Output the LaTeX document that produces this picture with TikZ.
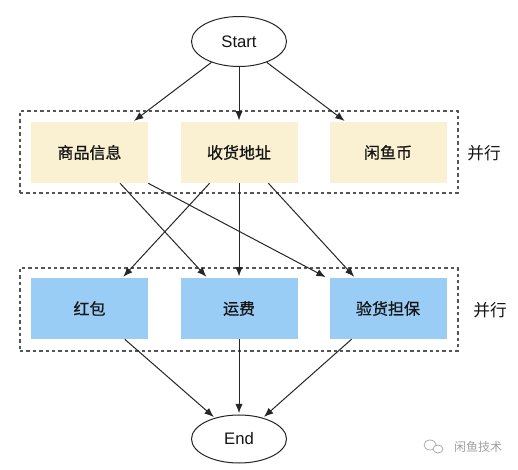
\documentclass[tikz,border=0pt]{standalone}
\usepackage{fontspec}
\setmainfont{Liberation Sans}
\newfontfamily\cjk{Noto Sans CJK SC}
\newfontfamily\cjkb{Noto Sans CJK SC}[FakeBold=0.8]
\usetikzlibrary{shapes.geometric,arrows.meta,calc}
\definecolor{boxyellow}{HTML}{FAF1D3}
\definecolor{boxblue}{HTML}{9ACDF5}
\definecolor{txt}{HTML}{151515}
\definecolor{dashgray}{HTML}{555555}
\definecolor{linegray}{HTML}{262626}
\definecolor{wmgray}{HTML}{A0A0A0}
\tikzset{
  terminal/.style={ellipse, draw=linegray, line width=0.75pt, fill=white, inner sep=0pt,
    minimum width=71.25pt, minimum height=37.5pt, font=\fontsize{12.5}{14}\selectfont, text=txt},
  yellowbox/.style={rectangle, fill=boxyellow, inner sep=0pt, minimum width=87.75pt,
    minimum height=45.75pt, font=\cjkb\fontsize{12}{14}\selectfont, text=txt},
  bluebox/.style={yellowbox, fill=boxblue},
  groupbox/.style={rectangle, draw=dashgray, line width=0.9pt, dash pattern=on 2.6pt off 2.2pt,
    inner sep=0pt, minimum width=328.5pt},
  sidelabel/.style={font=\cjk\fontsize{12.5}{14}\selectfont, text=txt},
  conn/.style={draw=linegray, line width=0.75pt, -{Latex[length=7pt,width=5.5pt]}, shorten >=1pt},
  watermark/.style={font=\cjk\fontsize{9}{11}\selectfont, text=wmgray}
}
\begin{document}
\begin{tikzpicture}[x=0.75pt,y=-0.75pt]
\useasboundingbox[fill=white] (0,0) rectangle (518,470);
% groups
\node[groupbox, minimum height=61.5pt] (g1) at (239,152) {};
\node[groupbox, minimum height=62.25pt] (g2) at (239,309.5) {};
% nodes
\node[terminal] (start) at (239,41.5) {Start};
\node[yellowbox] (shang) at (89.5,152.5) {商品信息};
\node[yellowbox] (shou) at (239,152.5) {收货地址};
\node[yellowbox] (xian) at (388,152.5) {闲鱼币};
\node[bluebox] (hong) at (89.5,308.5) {红包};
\node[bluebox] (yun) at (239,308.5) {运费};
\node[bluebox] (yan) at (388,308.5) {验货担保};
\node[terminal, minimum height=36pt] (end) at (239,439) {End};
\node[sidelabel] (p1) at (484,153) {并行};
\node[sidelabel] (p2) at (490,310) {并行};
% watermark
\node[watermark] (wm) at (478,447) {闲鱼技术};
\draw[wmgray, line width=0.5pt] (430,445) ellipse (6 and 5);
\draw[wmgray, line width=0.5pt, fill=white] (438,449) ellipse (5 and 4);
% connectors from Start
\draw[conn] (start) -- ($(shang.north west)!0.87!(shang.north east)$);
\draw[conn] (start) -- (shou.north);
\draw[conn] (start) -- ($(xian.north west)!0.14!(xian.north east)$);
% middle connectors
\draw[conn] ($(shang.south west)!0.76!(shang.south east)$) -- ($(yun.north west)!0.23!(yun.north east)$);
\draw[conn] (shang.south east) -- ($(yan.north west)!-0.02!(yan.north east)$);
\draw[conn] ($(shou.south west)!0.25!(shou.south east)$) -- ($(hong.north west)!0.78!(hong.north east)$);
\draw[conn] (shou.south) -- (yun.north);
\draw[conn] ($(shou.south west)!0.75!(shou.south east)$) -- ($(yan.north west)!0.22!(yan.north east)$);
% to End
\draw[conn] ($(hong.south west)!0.80!(hong.south east)$) -- (end);
\draw[conn] (yun.south) -- (end);
\draw[conn] ($(yan.south west)!0.19!(yan.south east)$) -- (end);
\end{tikzpicture}
\end{document}
